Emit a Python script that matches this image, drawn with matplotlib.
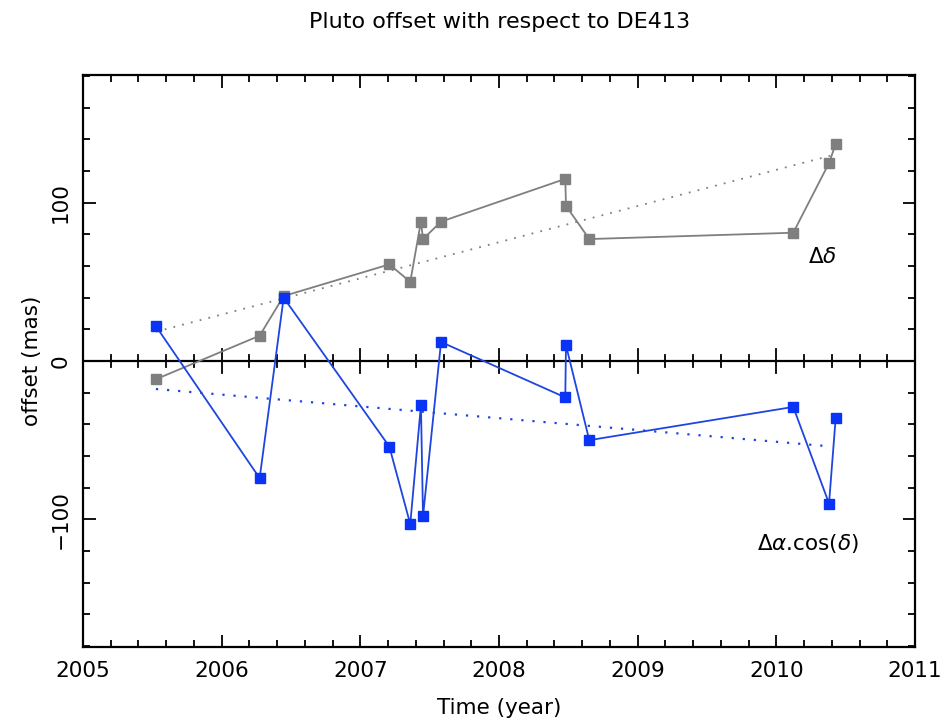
import numpy as np
import matplotlib
matplotlib.use("Agg")
import matplotlib.pyplot as plt

# ---- data ----
dates = [2005.526, 2006.274, 2006.447, 2007.209, 2007.360, 2007.437, 2007.452,
         2007.582, 2008.478, 2008.483, 2008.651, 2010.122, 2010.380, 2010.428]
delta_dec = [-11.5, 16, 41, 61, 50, 88, 77, 88, 115, 98, 77, 81, 125, 137]
delta_ra = [22, -74, 40, -54, -103, -28, -98, 12, -23, 10, -50, -29, -90, -36]

fit_dec_x = [2005.526, 2010.428]
fit_dec_y = [18.5, 130.5]
fit_ra_x = [2005.526, 2010.387]
fit_ra_y = [-17.7, -53.9]

xticks_major = [2005, 2006, 2007, 2008, 2009, 2010, 2011]
yticks_major = [-100, 0, 100]

plt.rcParams['font.family'] = ['DejaVu Sans']
plt.rcParams['mathtext.fontset'] = 'dejavusans'

fig = plt.figure(figsize=(9.41, 7.25), dpi=100)
ax = fig.add_axes([83/941, 78/725, 832/941, 572/725])

gray = '#7f7f7f'
blue_line = '#1f45e0'
blue_mark = '#0a33f5'

ax.plot(fit_dec_x, fit_dec_y, linestyle=(0, (1, 4)), color=gray, lw=1.3)
ax.plot(fit_ra_x, fit_ra_y, linestyle=(0, (1, 4)), color=blue_line, lw=1.6)

ax.plot(dates, delta_dec, color=gray, lw=1.3, marker='s', ms=7,
        mfc=gray, mec=gray)
ax.plot(dates, delta_ra, color=blue_line, lw=1.3, marker='s', ms=7,
        mfc=blue_mark, mec=blue_mark)

ax.axhline(0, color='black', lw=1.6, zorder=1)
# ticks crossing the zero line
for xt in np.arange(2005, 2011.001, 0.2):
    major = abs(xt - round(xt)) < 1e-6
    h = 7.4 if major else 4.0
    ax.plot([xt, xt], [-h, h], color='black', lw=1.3, zorder=1)

ax.set_xlim(2005, 2011)
ax.set_ylim(-180.6, 180.6)

ax.set_xticks(xticks_major)
ax.set_xticks(np.arange(2005, 2011.001, 0.2), minor=True)
ax.set_yticks(yticks_major)
ax.set_yticks(np.arange(-180, 181, 20), minor=True)
ax.set_yticklabels(['\u2212100', '0', '100'], rotation=90, va='center')

ax.tick_params(which='both', direction='in', top=True, right=True,
               width=1.3, labelsize=15.5)
ax.tick_params(which='major', length=9)
ax.tick_params(which='minor', length=5)
ax.tick_params(axis='x', pad=10)
ax.tick_params(axis='y', pad=9)

for s in ax.spines.values():
    s.set_linewidth(1.6)

ax.text(2010.33, 65.7, r'$\Delta\delta$', fontsize=15.5, ha='center', va='center')
ax.text(2010.23, -115, r'$\Delta\alpha$.cos($\delta$)', fontsize=15.5,
        ha='center', va='center')

ax.set_xlabel('Time (year)', fontsize=15.5, labelpad=12)
ax.set_ylabel('offset (mas)', fontsize=15.5, labelpad=6)
fig.text(500/941, 1 - 22/725, 'Pluto offset with respect to DE413',
         fontsize=16, ha='center', va='center')

fig.savefig('out.png', dpi=100)
